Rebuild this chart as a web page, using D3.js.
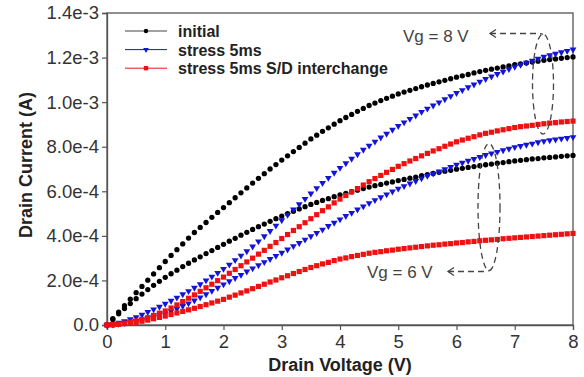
<!DOCTYPE html>
<html>
<head>
<meta charset="utf-8">
<script src="https://cdn.jsdelivr.net/npm/d3@7"></script>
<style>
  html, body { margin: 0; padding: 0; background: #fff; }
  svg { display: block; font-family: "Liberation Sans", Arial, sans-serif; }
</style>
</head>
<body>
<div id="chart"></div>
<script>
// Drain current vs drain voltage, currents in microamps (1e-6 A)
const vd = [0,0.1,0.2,0.3,0.4,0.5,0.6,0.7,0.8,0.9,1,1.1,1.2,1.3,1.4,1.5,1.6,1.7,1.8,1.9,2,2.1,2.2,2.3,2.4,2.5,2.6,2.7,2.8,2.9,3,3.1,3.2,3.3,3.4,3.5,3.6,3.7,3.8,3.9,4,4.1,4.2,4.3,4.4,4.5,4.6,4.7,4.8,4.9,5,5.1,5.2,5.3,5.4,5.5,5.6,5.7,5.8,5.9,6,6.1,6.2,6.3,6.4,6.5,6.6,6.7,6.8,6.9,7,7.1,7.2,7.3,7.4,7.5,7.6,7.7,7.8,7.9,8];

const initialVg8 = [0,29,58,87,116,145,173,201,229,257,285,312,338,364,390,415,438,460,483,505,527,549,571,593,615,637,658,679,700,720,740,759,778,797,816,835,852,869,885,901,917,931,945,959,972,985,996,1007,1017,1027,1037,1045,1053,1061,1069,1077,1084,1091,1098,1105,1112,1118,1124,1131,1137,1143,1148,1153,1158,1163,1168,1172,1176,1180,1184,1188,1191,1194,1197,1200,1203];
const initialVg6 = [0,25,50,74,96,118,139,159,178,196,214,230,246,262,277,292,306,320,334,348,362,376,389,403,416,429,441,453,465,477,489,500,510,521,531,541,550,559,567,576,584,591,598,605,612,619,625,631,637,642,648,653,659,664,670,675,680,685,690,694,699,703,707,711,715,719,722,726,729,733,736,739,742,745,747,750,752,754,757,759,761];
const stressVg8 = [0,4,10,17,26,35,46,58,70,82,95,109,123,138,152,167,183,200,217,234,252,271,291,311,331,352,375,398,422,446,470,494,518,542,566,590,614,637,660,683,705,726,746,766,786,805,823,841,858,876,893,909,925,940,956,971,985,999,1013,1027,1041,1054,1067,1079,1092,1104,1115,1126,1137,1148,1159,1168,1177,1186,1195,1204,1211,1217,1224,1230,1236];
const stressVg6 = [0,2,5,9,13,18,24,30,37,44,52,62,73,85,97,110,124,138,153,167,182,196,211,225,240,254,268,282,296,310,324,339,354,368,383,398,413,428,444,459,474,489,503,518,532,547,560,573,586,599,612,623,635,646,658,669,679,689,699,709,719,728,737,745,754,763,770,777,784,791,798,803,809,814,820,825,829,832,836,839,843];
const swapVg8 = [0,1,4,8,13,18,25,33,43,53,63,76,90,105,120,135,151,167,183,199,215,232,249,266,283,300,318,335,353,370,388,406,424,441,459,477,495,513,530,548,565,581,597,612,628,643,657,671,685,698,712,724,736,747,759,770,781,791,802,812,822,830,838,845,853,860,865,871,876,881,886,890,893,896,900,903,906,908,911,913,915];
const swapVg6 = [0,1,3,6,9,12,17,22,28,34,40,47,54,61,68,75,83,91,99,107,115,125,134,144,153,163,173,183,193,202,212,221,231,240,249,258,266,274,281,289,296,301,307,312,317,322,326,329,333,336,340,343,346,349,352,355,358,360,363,365,368,370,373,375,378,380,382,384,387,389,391,393,395,397,399,401,403,405,407,409,411];

const xTicks = [0,1,2,3,4,5,6,7,8];
const yTicks = [0,200,400,600,800,1000,1200,1400];
const yTickLabels = ['0.0','2.0e-4','4.0e-4','6.0e-4','8.0e-4','1.0e-3','1.2e-3','1.4e-3'];

const legendLabels = ['initial', 'stress 5ms', 'stress 5ms S/D interchange'];

const width = 584, height = 377;
const plot = { left: 107, right: 573, top: 13, bottom: 325 };

const svg = d3.select('#chart').append('svg')
  .attr('width', width)
  .attr('height', height);

const x = d3.scaleLinear().domain([0, 8]).range([plot.left, plot.right]);
const y = d3.scaleLinear().domain([0, 1400]).range([plot.bottom, plot.top]);

// Series styles
const styles = [
  { color: '#000000', line: '#444444', symbol: d3.symbolCircle, size: 22, rotate: 0 },
  { color: '#1414d8', line: '#1414d8', symbol: d3.symbolTriangle, size: 20, rotate: 180 },
  { color: '#ee1111', line: '#ee1111', symbol: d3.symbolSquare, size: 27, rotate: 0 },
];

const series = [
  { values: initialVg8, style: 0 },
  { values: initialVg6, style: 0 },
  { values: stressVg8, style: 1 },
  { values: stressVg6, style: 1 },
  { values: swapVg8, style: 2 },
  { values: swapVg6, style: 2 },
];

// Frame
svg.append('rect')
  .attr('x', plot.left).attr('y', plot.top)
  .attr('width', plot.right - plot.left)
  .attr('height', plot.bottom - plot.top)
  .attr('fill', 'none')
  .attr('stroke', '#555')
  .attr('stroke-width', 1.3);

// Axes
const xAxis = svg.append('g')
  .attr('transform', `translate(0,${plot.bottom})`)
  .call(d3.axisBottom(x).tickValues(xTicks).tickSize(5).tickPadding(5).tickFormat(d3.format('d')));

const yAxis = svg.append('g')
  .attr('transform', `translate(${plot.left},0)`)
  .call(d3.axisLeft(y).tickValues(yTicks).tickSize(5).tickPadding(3)
    .tickFormat((d, i) => yTickLabels[i]));

[xAxis, yAxis].forEach(a => {
  a.select('.domain').attr('stroke', '#555').attr('stroke-width', 1.3);
  a.selectAll('.tick line').attr('stroke', '#555').attr('stroke-width', 1.2);
  a.selectAll('.tick text')
    .attr('fill', '#333')
    .attr('font-size', '18.5px')
    .attr('font-family', '"Liberation Sans", Arial, sans-serif');
});

// Axis titles
svg.append('text')
  .attr('x', 340).attr('y', 371)
  .attr('text-anchor', 'middle')
  .attr('font-size', '18px')
  .attr('font-weight', 'bold')
  .attr('fill', '#222')
  .text('Drain Voltage (V)');

svg.append('text')
  .attr('transform', 'translate(32,165) rotate(-90)')
  .attr('text-anchor', 'middle')
  .attr('font-size', '18px')
  .attr('font-weight', 'bold')
  .attr('fill', '#222')
  .text('Drain Current (A)');

// Curves: dense markers only, the connecting line is hidden under them
const curves = svg.append('g');

series.forEach(s => {
  const st = styles[s.style];
  curves.append('g').selectAll('path')
    .data(s.values)
    .join('path')
    .attr('d', d3.symbol().type(st.symbol).size(st.size))
    .attr('transform', (d, i) => `translate(${x(vd[i])},${y(d)}) rotate(${st.rotate})`)
    .attr('fill', st.color);
});

// Legend
const legend = svg.append('g');
legendLabels.forEach((label, i) => {
  const st = styles[i];
  const ly = 31 + i * 18.6;
  legend.append('line')
    .attr('x1', 125).attr('x2', 167)
    .attr('y1', ly).attr('y2', ly)
    .attr('stroke', st.line).attr('stroke-width', 1);
  legend.append('path')
    .attr('d', d3.symbol().type(st.symbol).size(st.size * 0.7))
    .attr('transform', `translate(146,${ly}) rotate(${st.rotate})`)
    .attr('fill', st.color);
  legend.append('text')
    .attr('x', 178).attr('y', ly + 6)
    .attr('font-size', '16px')
    .attr('font-weight', 'bold')
    .attr('fill', '#222')
    .text(label);
});

// Annotations: dashed ellipses and arrows
const dash = '6,4';
const ann = svg.append('g')
  .attr('fill', 'none')
  .attr('stroke', '#444')
  .attr('stroke-width', 1.3);

ann.append('ellipse')
  .attr('cx', 543).attr('cy', 84).attr('rx', 10.5).attr('ry', 50)
  .attr('stroke-dasharray', dash);
ann.append('path')
  .attr('d', 'M490,33.5 L536,33.5 Q541,33.5 543,34.5')
  .attr('stroke-dasharray', dash);
ann.append('path').attr('d', 'M496,29.5 L490,33.5 L496,37.5');

ann.append('ellipse')
  .attr('cx', 489).attr('cy', 207).attr('rx', 11).attr('ry', 63.5)
  .attr('stroke-dasharray', dash);
ann.append('path')
  .attr('d', 'M448,271.5 L484,271.5 Q488,271.5 489,270.5')
  .attr('stroke-dasharray', dash);
ann.append('path').attr('d', 'M454,267.5 L448,271.5 L454,275.5');

svg.append('text')
  .attr('x', 403).attr('y', 41.5)
  .attr('font-size', '17px')
  .attr('fill', '#444')
  .text('Vg = 8 V');

svg.append('text')
  .attr('x', 367).attr('y', 278)
  .attr('font-size', '17px')
  .attr('fill', '#444')
  .text('Vg = 6 V');
</script>
</body>
</html>
